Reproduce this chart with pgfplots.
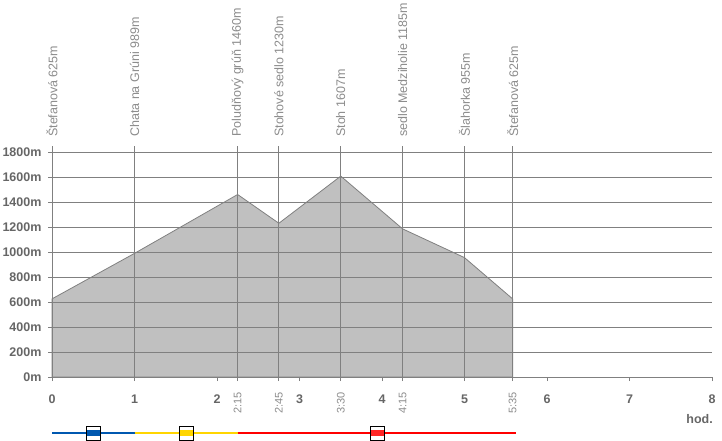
\documentclass[border=0pt]{standalone}
\usepackage{fontspec}
\setmainfont{Liberation Sans}
\usepackage{pgfplots}
\pgfplotsset{compat=1.18}

\definecolor{gridgray}{HTML}{808080}
\definecolor{areagray}{HTML}{C0C0C0}
\definecolor{tickgray}{HTML}{666666}
\definecolor{lightgray}{HTML}{8C8C8C}
\definecolor{trailblue}{HTML}{0058B0}
\definecolor{trailyellow}{HTML}{FFD500}
\definecolor{trailred}{HTML}{FF0000}

% profile: time (h) vs. altitude (m)
\pgfplotstableread{
t        h
0        625
1        989
2.25     1460
2.75     1230
3.5      1607
4.25     1185
5        955
5.58333  625
}\profile

\begin{document}
\begin{tikzpicture}[x=1pt,y=1pt]
\path[use as bounding box] (0,0) rectangle (722,440);
\begin{axis}[
    at={(52pt,63pt)}, anchor=south west,
    scale only axis, width=660pt, height=225pt,
    xmin=0, xmax=8, ymin=0, ymax=1800,
    clip=false, axis on top,
    axis x line=bottom, axis y line=left,
    axis line style={gridgray, line width=1pt, -},
    xtick={0,...,8}, ytick={0,200,...,1800},
    ymajorgrids,
    major grid style={gridgray, line width=1pt},
    tick style={gridgray, line width=1pt},
    major tick length=4pt,
    tick align=outside,
    /pgf/number format/assume math mode=true,
    xticklabel style={font=\bfseries\fontsize{12.5}{13}\selectfont, text=tickgray,
        anchor=north, yshift=-10pt},
    yticklabel style={font=\bfseries\fontsize{12.5}{13}\selectfont, text=tickgray,
        anchor=east, xshift=-3pt},
    yticklabel={\pgfmathprintnumber[1000 sep={}]{\tick}m},
    extra x ticks={2.25,2.75,3.5,4.25,5.58333},
    extra x tick labels={},
]
% elevation profile
\addplot[fill=areagray, draw=gridgray, line width=0.8pt] table[x=t, y=h] {\profile} \closedcycle;
% waypoint lines
\addplot[ycomb, gridgray, line width=1pt, no marks] coordinates {
  (0,1848) (1,1848) (2.25,1848) (2.75,1848) (3.5,1848) (4.25,1848) (5,1848) (5.58333,1848)};
% waypoint names
\foreach \x/\lab in {0/Štefanová 625m, 1/Chata na Grúni 989m, 2.25/Poludňový grúň 1460m,
  2.75/Stohové sedlo 1230m, 3.5/Stoh 1607m, 4.25/sedlo Medziholie 1185m,
  5/Šlahorka 955m, 5.58333/Štefanová 625m} {
  \edef\tmp{\noexpand\node[rotate=90, anchor=west, inner sep=0pt, text=lightgray,
    font=\noexpand\fontsize{12.5}{13}\noexpand\selectfont]
    at ([yshift=15pt]axis cs:\x,1800) {\lab};}
  \tmp
}
% arrival times
\foreach \x/\lab in {2.25/2:15, 2.75/2:45, 3.5/3:30, 4.25/4:15, 5.58333/5:35} {
  \edef\tmp{\noexpand\node[rotate=90, anchor=east, inner sep=0pt, text=lightgray,
    font=\noexpand\fontsize{11}{12}\noexpand\selectfont]
    at ([yshift=-15pt]axis cs:\x,0) {\lab};}
  \tmp
}
\node[anchor=east, inner sep=0pt, text=tickgray, font=\bfseries\fontsize{12.5}{13}\selectfont]
  at ([xshift=1pt, yshift=-42pt]axis cs:8,0) {hod.};
% trail colours
\addplot[trailblue, line width=2.5pt] coordinates {(0,-448) (1,-448)};
\addplot[trailyellow, line width=2.5pt] coordinates {(1,-448) (2.25,-448)};
\addplot[trailred, line width=2.5pt] coordinates {(2.25,-448) (5.63,-448)};
% trail markers
\addplot[only marks, mark=square*, mark size=7pt,
  mark options={fill=white, draw=black, line width=1pt}]
  coordinates {(0.5,-448) (1.625,-448) (3.94,-448)};
\addplot[only marks, mark=-, mark size=6.5pt, mark options={line width=6pt, trailblue}]
  coordinates {(0.5,-448)};
\addplot[only marks, mark=-, mark size=6.5pt, mark options={line width=6pt, trailyellow}]
  coordinates {(1.625,-448)};
\addplot[only marks, mark=-, mark size=6.5pt, mark options={line width=6pt, trailred!85!white}]
  coordinates {(3.94,-448)};
\end{axis}
\end{tikzpicture}
\end{document}
